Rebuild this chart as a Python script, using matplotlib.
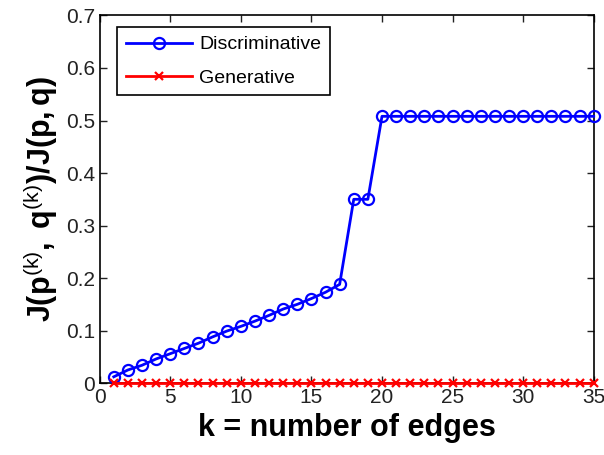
import matplotlib
matplotlib.use('Agg')
import matplotlib.pyplot as plt
import numpy as np

plt.rcParams['font.family'] = ['Liberation Sans', 'DejaVu Sans']
plt.rcParams['mathtext.fontset'] = 'custom'
plt.rcParams['mathtext.rm'] = 'Liberation Sans'
plt.rcParams['mathtext.bf'] = 'Liberation Sans:bold'
plt.rcParams['mathtext.it'] = 'Liberation Sans'

k = np.arange(1, 36)
disc = [0.012, 0.025, 0.034, 0.046, 0.056, 0.066, 0.076, 0.088, 0.099, 0.108,
        0.118, 0.129, 0.141, 0.150, 0.161, 0.173, 0.188, 0.350, 0.350,
        0.508, 0.508, 0.508, 0.508, 0.508, 0.508, 0.508, 0.508, 0.508,
        0.508, 0.508, 0.508, 0.508, 0.508, 0.508, 0.508]
gen = [0.0] * 35

fig = plt.figure(figsize=(6.04, 4.55), dpi=100)
ax = fig.add_axes([0.165, 0.158, 0.818, 0.808])

ax.plot(k, disc, '-o', color='blue', lw=2, ms=8, mfc='none', mew=1.6,
        label='Discriminative', clip_on=False, zorder=3)
ax.plot(k, gen, '-x', color='red', lw=2, ms=6, mew=1.6,
        label='Generative', clip_on=False, zorder=4)

ax.set_xlim(0, 35)
ax.set_ylim(0, 0.7)
ax.set_xticks(range(0, 36, 5))
ax.set_yticks(np.arange(0, 0.71, 0.1))
ax.set_yticklabels(['0', '0.1', '0.2', '0.3', '0.4', '0.5', '0.6', '0.7'])
ax.tick_params(direction='in', top=True, right=True, labelsize=15, length=5,
               width=1, colors='#222222')
for s in ax.spines.values():
    s.set_linewidth(1.2)

ax.set_xlabel('k = number of edges', fontsize=22, fontweight='bold', labelpad=4)
ax.set_ylabel(r'$\mathbf{J(p}^{(k)}\mathbf{,\ q}^{(k)}\mathbf{)/J(p,q)}$',
              fontsize=22, labelpad=4)

leg = ax.legend(loc='upper left', fontsize=14, fancybox=False, framealpha=1,
                edgecolor='black', handlelength=3.4, borderpad=0.45,
                labelspacing=0.8, handletextpad=0.4,
                bbox_to_anchor=(0.015, 0.995))
leg.get_frame().set_linewidth(1.2)

fig.savefig('out.png', dpi=100)
